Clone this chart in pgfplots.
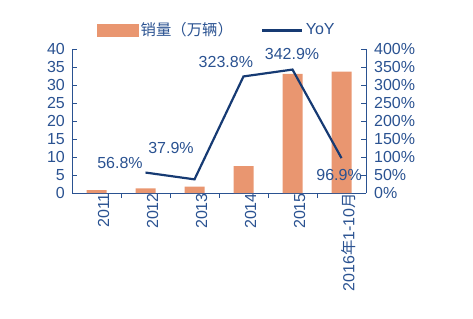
\documentclass[border=0pt]{standalone}
\usepackage{pgfplots}
\pgfplotsset{compat=1.18}
\usepackage{fontspec}
\setmainfont{Liberation Sans}
\newfontfamily\cjk[Scale=0.96]{Noto Sans CJK SC}
\definecolor{barcol}{RGB}{233,150,112}
\definecolor{linecol}{RGB}{22,58,115}
\definecolor{txtcol}{RGB}{42,82,145}
\definecolor{axcol}{RGB}{42,82,145}
\begin{document}
\fontsize{16bp}{19bp}\selectfont
\begin{tikzpicture}
\path[use as bounding box] (-72bp,-126bp) rectangle (401bp,193bp);
\begin{axis}[
  at={(0,0)}, anchor=south west,
  scale only axis, width=294bp, height=144bp,
  xmin=-0.5, xmax=5.5, ymin=0, ymax=40,
  axis x line*=bottom, axis y line*=left,
  axis line style={axcol, line width=0.8pt},
  tick align=inside, major tick length=5bp,
  tick style={axcol, line width=0.8pt},
  xtick={0.5,1.5,2.5,3.5,4.5}, xticklabels={},
  extra x ticks={0,1,2,3,4,5},
  extra x tick labels={2011,2012,2013,2014,2015,2016{\cjk 年}1-10{\cjk 月}},
  extra x tick style={major tick length=0pt},
  xticklabel style={rotate=90, anchor=east, font=\fontsize{16bp}{19bp}\selectfont, text=txtcol, inner sep=1bp, yshift=-7bp, xshift=1bp},
  ytick={0,5,...,40},
  yticklabels={0,5,10,15,20,25,30,35,40},
  yticklabel style={font=\fontsize{16bp}{19bp}\selectfont, text=txtcol, inner sep=1bp, xshift=-6bp},
  ybar, bar width=20bp,
]
\addplot[fill=barcol, draw=none] coordinates {(0,0.82) (1,1.28) (2,1.76) (3,7.48) (4,33.1) (5,33.7)};
\end{axis}
\begin{axis}[
  at={(0,0)}, anchor=south west,
  scale only axis, width=294bp, height=144bp,
  xmin=-0.5, xmax=5.5, ymin=0, ymax=400,
  clip=false,
  axis x line=none, axis y line*=right,
  axis line style={axcol, line width=0.8pt},
  tick align=inside, major tick length=5bp,
  tick style={axcol, line width=0.8pt},
  xtick=\empty,
  ytick={0,50,...,400},
  yticklabels={0\%,50\%,100\%,150\%,200\%,250\%,300\%,350\%,400\%},
  yticklabel style={font=\fontsize{16bp}{19bp}\selectfont, text=txtcol, inner sep=1bp, xshift=7bp},
  legend style={at={(0.5,1)}, anchor=south, xshift=-2bp, yshift=9bp, draw=none, fill=none,
    font=\fontsize{16bp}{19bp}\selectfont, text=txtcol, legend columns=2,
    /tikz/every even column/.append style={column sep=26bp},
    inner sep=0pt},
  legend cell align=left,
]
\addlegendimage{legend image code/.code={\fill[barcol] (0bp,-6bp) rectangle (41bp,6bp);}}
\addlegendentry{{\cjk 销量（万辆）}}
\addlegendimage{legend image code/.code={\draw[linecol, line width=3pt] (0bp,0bp) -- (40bp,0bp);}}
\addlegendentry{YoY}
\addplot[linecol, line width=2.2pt, mark=none] coordinates {(1,56.8) (2,37.9) (3,323.8) (4,342.9) (5,96.9)};
\node[text=txtcol, font=\fontsize{16bp}{19bp}\selectfont] at (axis cs:0.48,83) {56.8\%};
\node[text=txtcol, font=\fontsize{16bp}{19bp}\selectfont] at (axis cs:1.52,125) {37.9\%};
\node[text=txtcol, font=\fontsize{16bp}{19bp}\selectfont] at (axis cs:2.64,364) {323.8\%};
\node[text=txtcol, font=\fontsize{16bp}{19bp}\selectfont] at (axis cs:3.99,386) {342.9\%};
\node[text=txtcol, font=\fontsize{16bp}{19bp}\selectfont] at (axis cs:4.95,50) {96.9\%};
\end{axis}
\end{tikzpicture}
\end{document}
